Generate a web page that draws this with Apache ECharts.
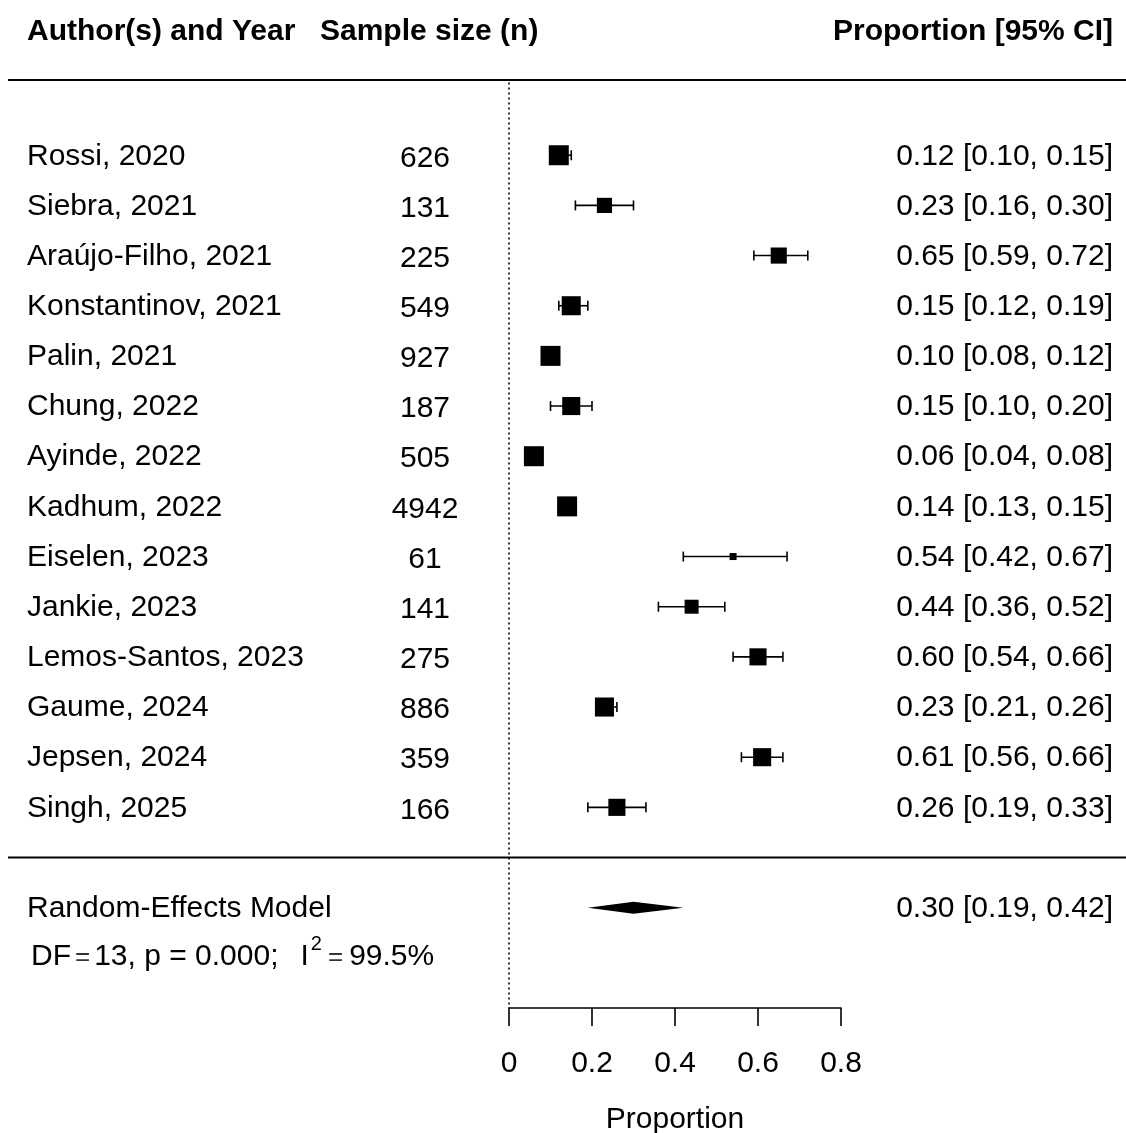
<!DOCTYPE html>
<html>
<head>
<meta charset="utf-8">
<title>Forest plot – pooled proportion</title>
<script src="https://cdn.jsdelivr.net/npm/echarts@6/dist/echarts.min.js"></script>
<style>
  html, body { margin: 0; padding: 0; background: #ffffff; }
  #chart { width: 1126px; height: 1133px; }
</style>
</head>
<body>
<div id="chart"></div>
<script>
// ---- study data -------------------------------------------------------
const authors = [
  'Rossi, 2020', 'Siebra, 2021', 'Araújo-Filho, 2021', 'Konstantinov, 2021',
  'Palin, 2021', 'Chung, 2022', 'Ayinde, 2022', 'Kadhum, 2022',
  'Eiselen, 2023', 'Jankie, 2023', 'Lemos-Santos, 2023', 'Gaume, 2024',
  'Jepsen, 2024', 'Singh, 2025'
];
const sampleSizes = [626, 131, 225, 549, 927, 187, 505, 4942, 61, 141, 275, 886, 359, 166];
const estimates   = [0.12, 0.23, 0.65, 0.15, 0.10, 0.15, 0.06, 0.14, 0.54, 0.44, 0.60, 0.23, 0.61, 0.26];
const lowerCI     = [0.10, 0.16, 0.59, 0.12, 0.08, 0.10, 0.04, 0.13, 0.42, 0.36, 0.54, 0.21, 0.56, 0.19];
const upperCI     = [0.15, 0.30, 0.72, 0.19, 0.12, 0.20, 0.08, 0.15, 0.67, 0.52, 0.66, 0.26, 0.66, 0.33];
// random-effects weights (%), drive the square sizes
const weights     = [8.3, 6.3, 6.7, 7.9, 8.3, 7.5, 8.3, 8.3, 2.9, 5.8, 7.1, 7.9, 7.5, 7.1];

// ---- pooled estimate --------------------------------------------------
const pooledLabel    = 'Random-Effects Model';
const pooledEstimate = [0.30];
const pooledLower    = [0.19];
const pooledUpper    = [0.42];
const hetDF = 13;
const hetP  = '0.000';
const hetI2 = '99.5%';

// ---- axis -------------------------------------------------------------
const xTicks = [0, 0.2, 0.4, 0.6, 0.8];
const xTitle = 'Proportion';
const headers = ['Author(s) and Year', 'Sample size (n)', 'Proportion [95% CI]'];

// ---- layout helpers ---------------------------------------------------
const FONT = '"Liberation Sans", Arial, Helvetica, sans-serif';
const FS = 30;
const TEXT_DY = 1;         // nudge so the cap height sits on the row centre
const COL_AUTHOR = 27;     // left edge of author column
const COL_N = 425;         // centre of sample size column
const COL_CI = 1113;       // right edge of CI column
const PAGE_W = 1126;
const MAX_SIDE = 20;       // side of the largest square, px
const maxW = Math.max(...weights);

const nStudies = authors.length;
const sepRow = nStudies + 1;       // separator line
const pooledRow = nStudies + 2;    // pooled diamond row
const statsRow = nStudies + 3;     // heterogeneity text row

const fmt = v => v.toFixed(2);
const ciText = (e, l, u) => `${fmt(e)} [${fmt(l)}, ${fmt(u)}]`;

function txt(x, y, text, align, opts) {
  opts = opts || {};
  return {
    type: 'text', x: x, y: y, silent: true,
    style: {
      text: text, x: 0, y: 0, fill: opts.color || '#000',
      fontSize: opts.size || FS, fontFamily: FONT,
      fontWeight: opts.bold ? 'bold' : 'normal',
      align: align || 'left', verticalAlign: 'middle'
    }
  };
}

const measureCtx = document.createElement('canvas').getContext('2d');
function textWidth(s, size) {
  measureCtx.font = `${size}px ${FONT}`;
  return measureCtx.measureText(s).width;
}

// one study row: CI whisker with caps, weighted square, and the three text columns
function renderStudy(params, api) {
  const i = api.value(0);
  const row = api.value(1);
  const est = api.value(2), lo = api.value(3), hi = api.value(4), w = api.value(5);
  const c = api.coord([est, row]);
  const pl = api.coord([lo, row]);
  const ph = api.coord([hi, row]);
  const y = c[1];
  const side = MAX_SIDE * w / maxW;
  const cap = 5;
  const stroke = { stroke: '#000', lineWidth: 1.6 };
  return {
    type: 'group',
    children: [
      { type: 'line', shape: { x1: pl[0], y1: y, x2: ph[0], y2: y }, style: stroke },
      { type: 'line', shape: { x1: pl[0], y1: y - cap, x2: pl[0], y2: y + cap }, style: stroke },
      { type: 'line', shape: { x1: ph[0], y1: y - cap, x2: ph[0], y2: y + cap }, style: stroke },
      { type: 'rect', shape: { x: c[0] - side / 2, y: y - side / 2, width: side, height: side },
        style: { fill: '#000' } },
      txt(COL_AUTHOR, y + TEXT_DY, authors[i], 'left'),
      txt(COL_N, y + TEXT_DY + 2, String(sampleSizes[i]), 'center'),
      txt(COL_CI, y + TEXT_DY, ciText(estimates[i], lowerCI[i], upperCI[i]), 'right')
    ]
  };
}

// heterogeneity line, set piece by piece so the "=" signs and the superscript
// can be sized like mathematical annotation
function statsLine(x0, y) {
  const EQ = 26, SUP = 20;
  const pieces = [];
  let x = x0;
  const put = (s, size, dy, gapBefore, color) => {
    x += gapBefore;
    pieces.push(txt(x, y + dy, s, 'left', { size: size, color: color }));
    x += textWidth(s, size);
  };
  put('DF', FS, 0, 0);
  put('=', EQ, 1, 4, '#333');
  put(`${hetDF}, p = ${hetP};`, FS, 0, 4);
  put('I', FS, 0, 22);
  put('2', SUP, -12, 2);
  put('=', EQ, 1, 6, '#333');
  put(hetI2, FS, 0, 6);
  return pieces;
}

// pooled row: diamond, label, CI text, and heterogeneity statistics underneath
function renderPooled(params, api) {
  const row = api.value(0);
  const est = api.value(1), lo = api.value(2), hi = api.value(3);
  const c = api.coord([est, row]);
  const pl = api.coord([lo, row]);
  const ph = api.coord([hi, row]);
  const y = c[1];
  const halfH = 6;
  const yStats = api.coord([est, statsRow])[1] + TEXT_DY - 2;

  return {
    type: 'group',
    children: [
      { type: 'polygon',
        shape: { points: [[pl[0], y], [c[0], y - halfH], [ph[0], y], [c[0], y + halfH]] },
        style: { fill: '#000' } },
      txt(COL_AUTHOR, y + TEXT_DY, pooledLabel, 'left'),
      txt(COL_CI, y + TEXT_DY, ciText(est, lo, hi), 'right')
    ].concat(statsLine(31, yStats))
  };
}

const studyData = authors.map((a, i) => [i, i + 1, estimates[i], lowerCI[i], upperCI[i], weights[i]]);
const pooledData = [[pooledRow, pooledEstimate[0], pooledLower[0], pooledUpper[0]]];

const chart = echarts.init(document.getElementById('chart'), null, { renderer: 'canvas' });

const gridTop = 80, gridBottomY = 1008, gridLeft = 509, gridRight = 841;

chart.setOption({
  backgroundColor: '#ffffff',
  animation: false,
  grid: {
    left: gridLeft, right: PAGE_W - gridRight,
    top: gridTop, bottom: 1133 - gridBottomY,
    containLabel: false,
    outerBoundsMode: 'none'
  },
  xAxis: {
    type: 'value',
    min: xTicks[0], max: xTicks[xTicks.length - 1], interval: 0.2,
    position: 'bottom',
    name: xTitle, nameLocation: 'middle', nameGap: 97,
    nameTextStyle: { fontSize: FS, fontFamily: FONT, color: '#000' },
    axisLine: { show: true, onZero: false, lineStyle: { color: '#000', width: 1.6 } },
    axisTick: { show: true, length: 18, lineStyle: { color: '#000', width: 1.6 } },
    axisLabel: {
      fontSize: FS, fontFamily: FONT, color: '#000', margin: 41,
      formatter: v => (v === 0 ? '0' : v.toFixed(1))
    },
    splitLine: { show: false }
  },
  yAxis: {
    type: 'value', inverse: true, min: -0.5, max: 18, show: false
  },
  graphic: [
    // column headers
    txt(COL_AUTHOR, 32, headers[0], 'left', { bold: true }),
    txt(320, 32, headers[1], 'left', { bold: true }),
    txt(COL_CI, 32, headers[2], 'right', { bold: true }),
    // rule under the headers
    { type: 'line', shape: { x1: 8, y1: gridTop, x2: PAGE_W, y2: gridTop },
      style: { stroke: '#000', lineWidth: 2 } }
  ],
  series: [
    {
      // reference line at zero
      type: 'line',
      data: [[0, -0.45], [0, 18]],
      symbol: 'none',
      silent: true,
      lineStyle: { color: '#000', width: 1.6, type: [2, 3] },
      z: 1
    },
    {
      // separator between studies and pooled estimate
      type: 'custom',
      clip: false,
      silent: true,
      data: [[sepRow]],
      encode: { y: 0 },
      renderItem: (params, api) => {
        const y = api.coord([0, api.value(0)])[1];
        return { type: 'line', shape: { x1: 8, y1: y, x2: PAGE_W, y2: y },
                 style: { stroke: '#000', lineWidth: 2 } };
      }
    },
    {
      type: 'custom',
      clip: false,
      silent: true,
      data: studyData,
      encode: { x: [2, 3, 4], y: 1 },
      renderItem: renderStudy,
      z: 3
    },
    {
      type: 'custom',
      clip: false,
      silent: true,
      data: pooledData,
      encode: { x: [1, 2, 3], y: 0 },
      renderItem: renderPooled,
      z: 3
    }
  ]
});
</script>
</body>
</html>
